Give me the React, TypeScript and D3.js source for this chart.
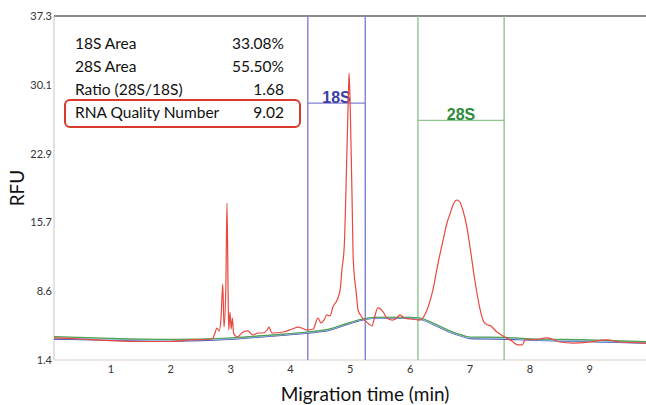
import React from 'react';
import * as d3 from 'd3';

// sample trace (red)
const sampleTime = [
  0.05, 0.48, 0.75, 1.49, 1.99, 2.32, 2.69, 2.74, 2.77, 2.81, 2.84, 2.87, 2.89, 2.92, 2.94, 2.96, 2.97, 2.99,
  3.01, 3.03, 3.05, 3.11, 3.21, 3.29, 3.37, 3.46, 3.54, 3.61, 3.64, 3.69, 3.88, 4.03, 4.13, 4.28, 4.38, 4.46,
  4.51, 4.56, 4.61, 4.66, 4.71, 4.78, 4.83, 4.86, 4.9, 4.94, 4.97, 4.98, 5.0, 5.03, 5.05, 5.1, 5.13, 5.18,
  5.24, 5.31, 5.36, 5.41, 5.46, 5.55, 5.61, 5.7, 5.76, 5.83, 5.9, 6.0, 6.16, 6.26, 6.38, 6.46, 6.55, 6.62,
  6.67, 6.73, 6.78, 6.83, 6.88, 6.95, 7.0, 7.08, 7.17, 7.23, 7.3, 7.35, 7.43, 7.5, 7.58, 7.7, 7.8, 7.87,
  7.93, 8.03, 8.29, 8.5, 8.72, 9.0, 9.29, 9.5, 9.94,
];
const sampleRfu = [
  3.7, 3.59, 3.49, 3.33, 3.33, 3.49, 3.59, 4.22, 4.74, 4.43, 5.78, 9.33, 4.84, 8.71, 17.78, 7.66, 4.53, 6.41,
  4.64, 5.78, 4.22, 3.8, 4.32, 4.43, 4.01, 4.22, 4.22, 4.53, 4.84, 4.22, 4.32, 4.64, 4.84, 4.53, 4.64, 5.78,
  5.26, 5.57, 6.1, 5.99, 6.93, 7.66, 8.71, 10.79, 13.4, 22.27, 29.58, 31.35, 27.49, 18.1, 11.84, 8.39, 6.62, 5.99,
  5.57, 5.16, 4.95, 5.99, 6.83, 6.41, 5.78, 5.57, 5.68, 6.1, 5.78, 5.68, 5.57, 6.31, 8.71, 11.31, 13.92, 15.8,
  16.74, 17.78, 18.1, 17.89, 17.05, 15.18, 13.19, 9.75, 6.62, 5.37, 5.05, 4.95, 4.43, 4.11, 3.8, 3.38, 2.97, 2.97,
  3.59, 3.49, 3.7, 3.28, 3.17, 3.28, 3.49, 3.28, 3.17,
];

// other traces (baselines)
const baseTime = [0.05, 1.0, 2.0, 3.04, 3.66, 4.28, 4.66, 4.91, 5.19, 5.41, 5.99, 6.16, 6.41, 6.66, 6.91, 7.0, 7.58, 8.0, 9.0, 9.94];
const blueRfu = [3.59, 3.49, 3.38, 3.59, 3.9, 4.22, 4.53, 5.05, 5.57, 5.78, 5.78, 5.68, 5.05, 4.32, 3.8, 3.64, 3.59, 3.49, 3.33, 3.17];
const lightRfu = [3.68, 3.55, 3.45, 3.64, 3.95, 4.27, 4.58, 5.1, 5.62, 5.82, 5.82, 5.72, 5.1, 4.38, 3.86, 3.72, 3.68, 3.55, 3.4, 3.24];
const greenRfu = [3.85, 3.65, 3.55, 3.72, 4.0, 4.32, 4.65, 5.15, 5.65, 5.86, 5.86, 5.78, 5.18, 4.45, 3.92, 3.8, 3.76, 3.62, 3.5, 3.32];

const yTicks = [1.4, 8.6, 15.7, 22.9, 30.1, 37.3];
const xTicks = [1, 2, 3, 4, 5, 6, 7, 8, 9];

const region18S = [4.29, 5.25];
const region28S = [6.13, 7.57];
const level18S = 28.2;
const level28S = 26.4;

const infoLabels = ['18S Area', '28S Area', 'Ratio (28S/18S)', 'RNA Quality Number'];
const infoValues = ['33.08%', '55.50%', '1.68', '9.02'];

const W = 646;
const H = 405;
const margin = { top: 16, right: 0, bottom: 45, left: 54 };

const App: React.FC = () => {
  const x = d3.scaleLinear().domain([0.05, 9.94]).range([margin.left, W - margin.right]);
  const y = d3.scaleLinear().domain([1.4, 37.3]).range([H - margin.bottom, margin.top]);

  const line = d3.line<[number, number]>()
    .x(d => x(d[0]))
    .y(d => y(d[1]))
    .curve(d3.curveMonotoneX);

  const pairs = (t: number[], v: number[]) => t.map((d, i) => [d, v[i]] as [number, number]);

  const top = y(37.3);
  const bottom = y(1.4);
  const font = 'Lato, "Open Sans", sans-serif';

  return (
    <svg width={W} height={H} style={{ position: 'absolute', left: 0, top: 0, background: '#fff' }}>
      {/* axes frame */}
      <line x1={x.range()[0]} x2={W} y1={top} y2={top} stroke="#666" strokeWidth={1.5} />
      <line x1={x.range()[0]} x2={x.range()[0]} y1={top} y2={bottom} stroke="#c4c4c4" strokeWidth={1} />
      <line x1={x.range()[0]} x2={W} y1={bottom} y2={bottom} stroke="#d8cfc8" strokeWidth={1} />

      {yTicks.map(t => (
        <text key={t} x={x.range()[0] - 2} y={y(t)} dy="0.32em" textAnchor="end"
          fontFamily={font} fontSize={11} fill="#333">{t.toFixed(1)}</text>
      ))}
      {xTicks.map(t => (
        <text key={t} x={x(t)} y={bottom + 13} textAnchor="middle"
          fontFamily={font} fontSize={11} fill="#333">{t}</text>
      ))}

      {/* region markers */}
      {region18S.map(t => (
        <line key={'b' + t} x1={x(t)} x2={x(t)} y1={top} y2={bottom} stroke="#8080d4" strokeWidth={1.4} />
      ))}
      <line x1={x(region18S[0])} x2={x(region18S[1])} y1={y(level18S)} y2={y(level18S)} stroke="#8080d4" strokeWidth={1.2} />
      <text x={(x(region18S[0]) + x(region18S[1])) / 2} y={y(level18S) - 0.5} textAnchor="middle"
        fontFamily="'Liberation Sans', Arial, sans-serif" fontWeight="bold" fontSize={16} fill="#3b3fa3">18S</text>

      {region28S.map(t => (
        <line key={'g' + t} x1={x(t)} x2={x(t)} y1={top} y2={bottom} stroke="#8fc48f" strokeWidth={1.4} />
      ))}
      <line x1={x(region28S[0])} x2={x(region28S[1])} y1={y(level28S)} y2={y(level28S)} stroke="#8fc48f" strokeWidth={1.2} />
      <text x={(x(region28S[0]) + x(region28S[1])) / 2} y={y(level28S) - 0.5} textAnchor="middle"
        fontFamily="'Liberation Sans', Arial, sans-serif" fontWeight="bold" fontSize={16} fill="#2f8a3c">28S</text>

      {/* traces */}
      <path d={line(pairs(baseTime, blueRfu)) ?? ''} fill="none" stroke="#3a3aa8" strokeWidth={1.6} />
      <path d={line(pairs(baseTime, lightRfu)) ?? ''} fill="none" stroke="#98c2e2" strokeWidth={1.6} />
      <path d={line(pairs(baseTime, greenRfu)) ?? ''} fill="none" stroke="#4fa050" strokeWidth={1.2} />
      <path d={line(pairs(sampleTime, sampleRfu)) ?? ''} fill="none" stroke="#e8483e" strokeWidth={1.2} />

      {/* summary box */}
      {infoLabels.map((l, i) => (
        <g key={l}>
          <text x={75} y={48.5 + i * 23} fontFamily={font} fontSize={15.5} fill="#111">{l}</text>
          <text x={284} y={48.5 + i * 23} textAnchor="end" fontFamily={font} fontSize={15.5} fill="#111">{infoValues[i]}</text>
        </g>
      ))}
      <rect x={65} y={100} width={235} height={27} rx={5} fill="none" stroke="#d83a2e" strokeWidth={2} />

      {/* axis titles */}
      <text transform={`translate(24,${(top + bottom) / 2}) rotate(-90)`} textAnchor="middle"
        fontFamily={font} fontSize={19} fill="#111">RFU</text>
      <text x={365} y={401} textAnchor="middle" fontFamily={font} fontSize={19} fill="#111">Migration time (min)</text>
    </svg>
  );
};

export default App;
